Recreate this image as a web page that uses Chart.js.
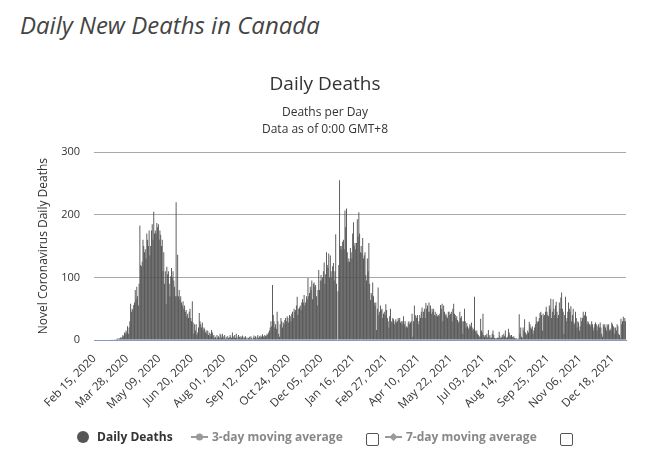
<!DOCTYPE html>
<html>
<head>
<meta charset="utf-8">
<script src="https://cdn.jsdelivr.net/npm/chart.js@4.4.1/dist/chart.umd.min.js"></script>
<style>
  body { margin: 0; background: #fff; font-family: "Open Sans", sans-serif; }
  #page { position: relative; width: 650px; height: 450px; overflow: hidden; }
  #pageTitle { position: absolute; left: 20px; top: 8px; font-size: 24px; font-style: italic; color: #444; white-space: nowrap; }
  #chartBox { position: absolute; left: 0; top: 0; width: 650px; height: 450px; }
  .lg { position: absolute; top: 429px; font-size: 12px; font-weight: bold; white-space: nowrap; line-height: 16px; }
  .dot { position: absolute; width: 12px; height: 12px; border-radius: 50%; background: #555; }
  .box { position: absolute; width: 11px; height: 11px; border: 1px solid #555; border-radius: 2px; background: #fff; }
</style>
</head>
<body>
<div id="page">
  <div id="pageTitle">Daily New Deaths in Canada</div>
  <div id="chartBox"><canvas id="deathsChart"></canvas></div>
  <div class="dot" style="left:77px; top:431px;"></div>
  <div class="lg" style="left:97px; color:#333;">Daily Deaths</div>
  <svg style="position:absolute; left:191px; top:431px;" width="17" height="12">
    <line x1="0" y1="6" x2="17" y2="6" stroke="#999" stroke-width="2"/>
    <circle cx="8.5" cy="6" r="3.5" fill="#999"/>
  </svg>
  <div class="lg" style="left:212px; color:#888;">3-day moving average</div>
  <div class="box" style="left:366px; top:433px;"></div>
  <svg style="position:absolute; left:385px; top:431px;" width="17" height="12">
    <line x1="0" y1="6" x2="17" y2="6" stroke="#999" stroke-width="2"/>
    <path d="M8.5 2 L12.5 6 L8.5 10 L4.5 6 Z" fill="#999"/>
  </svg>
  <div class="lg" style="left:406px; color:#888;">7-day moving average</div>
  <div class="box" style="left:560px; top:433px;"></div>
</div>
<script>
const START_DATE = Date.UTC(2020, 1, 15);
const MONTHS = ["Jan", "Feb", "Mar", "Apr", "May", "Jun", "Jul", "Aug", "Sep", "Oct", "Nov", "Dec"];

// daily deaths, Feb 15 2020 - Dec 31 2020
const deaths2020 = [
  0, 0, 0, 0, 0, 0, 0, 0, 0, 0,
  0, 0, 0, 0, 0, 0, 0, 0, 0, 0,
  0, 0, 0, 1, 0, 0, 1, 0, 1, 2,
  2, 1, 3, 2, 4, 3, 5, 8, 6, 12,
  10, 15, 12, 22, 10, 20, 30, 58, 45, 50,
  48, 56, 60, 80, 65, 85, 70, 55, 90, 183,
  120, 118, 125, 160, 150, 140, 145, 130, 170, 160,
  150, 175, 135, 150, 175, 185, 160, 205, 170, 175,
  170, 187, 180, 185, 160, 175, 168, 150, 160, 110,
  140, 90, 110, 58, 117, 105, 110, 90, 70, 102,
  115, 100, 110, 95, 85, 70, 220, 70, 136, 70,
  80, 65, 70, 60, 55, 62, 50, 55, 45, 48,
  38, 42, 35, 45, 50, 35, 30, 62, 28, 10,
  25, 15, 25, 8, 12, 20, 43, 30, 25, 20,
  28, 15, 20, 18, 12, 15, 10, 15, 8, 12,
  6, 10, 16, 12, 6, 8, 3, 5, 2, 8,
  4, 6, 3, 10, 8, 4, 10, 6, 3, 8,
  2, 5, 2, 6, 3, 4, 8, 5, 3, 12,
  6, 4, 8, 3, 10, 5, 2, 8, 5, 3,
  6, 4, 7, 2, 5, 3, 6, 2, 4, 1,
  3, 5, 2, 6, 3, 1, 4, 7, 3, 6,
  2, 5, 8, 3, 6, 4, 7, 5, 9, 6,
  5, 8, 6, 7, 10, 8, 12, 15, 20, 30,
  22, 88, 40, 30, 20, 25, 18, 45, 30, 10,
  5, 25, 35, 30, 20, 28, 25, 32, 35, 30,
  38, 35, 28, 40, 38, 30, 42, 45, 35, 50,
  45, 48, 55, 69, 40, 50, 52, 55, 48, 60,
  65, 60, 72, 55, 60, 70, 65, 99, 70, 75,
  85, 80, 95, 65, 90, 92, 85, 88, 70, 55,
  80, 112, 80, 95, 104, 95, 100, 110, 124, 90,
  105, 140, 120, 115, 138, 100, 135, 110, 100, 118,
  123, 95, 110, 169, 90, 0, 78, 120, 255, 150,
  145
];

// daily deaths, Jan 01 2021 - Dec 31 2021
const deaths2021 = [
  150, 157, 160, 145, 207, 180, 210, 140, 125,
  130, 125, 147, 140, 130, 170, 188, 150, 155, 145,
  155, 193, 165, 204, 170, 140, 150, 139, 163, 130,
  135, 140, 104, 95, 130, 110, 155, 90, 64, 75,
  72, 92, 70, 60, 55, 60, 16, 50, 84, 40,
  45, 55, 48, 50, 35, 42, 45, 40, 57, 48,
  35, 30, 20, 38, 50, 30, 28, 35, 33, 25,
  30, 33, 28, 30, 35, 32, 35, 28, 30, 25,
  30, 38, 25, 30, 20, 22, 20, 28, 30, 25,
  28, 30, 42, 5, 30, 55, 40, 38, 35, 40,
  25, 30, 40, 35, 45, 52, 35, 45, 50, 35,
  59, 50, 55, 45, 60, 45, 55, 42, 50, 45,
  50, 40, 45, 38, 42, 38, 40, 38, 42, 56,
  50, 58, 30, 55, 45, 40, 42, 38, 35, 45,
  45, 40, 42, 45, 30, 50, 58, 42, 40, 35,
  38, 32, 28, 30, 45, 35, 38, 30, 10, 30,
  50, 30, 20, 27, 22, 18, 20, 25, 22, 28,
  20, 15, 18, 69, 15, 12, 15, 10, 8, 5,
  6, 34, 15, 12, 42, 8, 5, 8, 6, 10,
  4, 16, 5, 8, 3, 4, 10, 15, 8, 3,
  2, 3, 2, 4, 3, 13, 6, 3, 4, 8,
  5, 10, 6, 15, 4, 3, 5, 18, 12, 8,
  6, 8, 5, 4, 6, 3, 2, 3, 1, 2,
  2, 41, 10, 20, 5, 3, 20, 15, 33, 12,
  8, 10, 15, 12, 29, 25, 20, 18, 22, 10,
  15, 20, 25, 37, 30, 28, 30, 35, 43, 45,
  40, 15, 42, 38, 40, 45, 53, 45, 40, 38,
  55, 50, 66, 35, 45, 65, 50, 40, 55, 61,
  45, 35, 40, 60, 50, 68, 76, 50, 45, 10,
  40, 69, 30, 35, 45, 60, 50, 45, 54, 30,
  40, 50, 28, 25, 45, 35, 20, 30, 28, 15,
  22, 36, 30, 35, 45, 38, 40, 45, 38, 25,
  30, 28, 25, 22, 25, 30, 25, 15, 20, 25,
  28, 25, 15, 22, 25, 20, 28, 20, 10, 5,
  25, 22, 25, 20, 15, 25, 22, 25, 15, 18,
  15, 28, 25, 22, 20, 10, 20, 15, 25, 22,
  10, 8, 3, 34, 25, 30
];

// daily deaths, Jan 01 2022 - Jan 04 2022
const deaths2022 = [37, 30, 35, 30];

const tickLabels = [
  "Feb 15, 2020", "Mar 28, 2020", "May 09, 2020", "Jun 20, 2020", "Aug 01, 2020",
  "Sep 12, 2020", "Oct 24, 2020", "Dec 05, 2020", "Jan 16, 2021", "Feb 27, 2021",
  "Apr 10, 2021", "May 22, 2021", "Jul 03, 2021", "Aug 14, 2021", "Sep 25, 2021",
  "Nov 06, 2021", "Dec 18, 2021",
];

const dailyDeaths = [...deaths2020, ...deaths2021, ...deaths2022];

const formatDay = (ms) => {
  const d = new Date(ms);
  const day = String(d.getUTCDate()).padStart(2, "0");
  return `${MONTHS[d.getUTCMonth()]} ${day}, ${d.getUTCFullYear()}`;
};
const categories = dailyDeaths.map((_, i) => formatDay(START_DATE + i * 86400000));
const shownTicks = new Set(tickLabels);

Chart.defaults.font.family = "'Open Sans', sans-serif";
Chart.defaults.color = "#333";

const ctx = document.getElementById("deathsChart").getContext("2d");
new Chart(ctx, {
  type: "bar",
  data: {
    labels: categories,
    datasets: [{
      label: "Daily Deaths",
      data: dailyDeaths,
      backgroundColor: "#525252",
      borderWidth: 0,
      barPercentage: 1.2,
      categoryPercentage: 1,
    }],
  },
  options: {
    responsive: true,
    maintainAspectRatio: false,
    animation: false,
    layout: { padding: { left: 24, right: 24, top: 0, bottom: 0 } },
    plugins: {
      legend: { display: false },
      tooltip: { enabled: false },
      title: {
        display: true,
        text: "Daily Deaths",
        color: "#333",
        font: { size: 19, weight: "normal" },
        padding: { top: 73, bottom: 0 },
      },
      subtitle: {
        display: true,
        text: ["Deaths per Day", "Data as of 0:00 GMT+8"],
        color: "#333",
        font: { size: 12, weight: "normal", lineHeight: 1.35 },
        padding: { top: 9, bottom: 15 },
      },
    },
    scales: {
      x: {
        grid: { display: false },
        border: { display: true, color: "#8896c8" },
        ticks: {
          autoSkip: false,
          maxRotation: 45,
          minRotation: 45,
          padding: 4,
          color: "#333",
          font: { size: 11.5 },
          callback: function (value) {
            const label = this.getLabelForValue(value);
            return shownTicks.has(label) ? label : "";
          },
        },
        afterFit: (scale) => { scale.height = 110; },
      },
      y: {
        min: 0,
        max: 300,
        border: { display: false },
        grid: {
          drawTicks: false,
          color: (c) => (c.tick.value === 0 ? "rgba(0,0,0,0)" : "#a8a8a8"),
        },
        ticks: { stepSize: 100, padding: 14, color: "#333", font: { size: 11 } },
        title: {
          display: true,
          text: "Novel Coronavirus Daily Deaths",
          color: "#333",
          font: { size: 12, weight: "normal" },
          padding: { top: 12, bottom: 0 },
        },
        afterFit: (scale) => { scale.width = 70; },
      },
    },
  },
});
</script>
</body>
</html>
